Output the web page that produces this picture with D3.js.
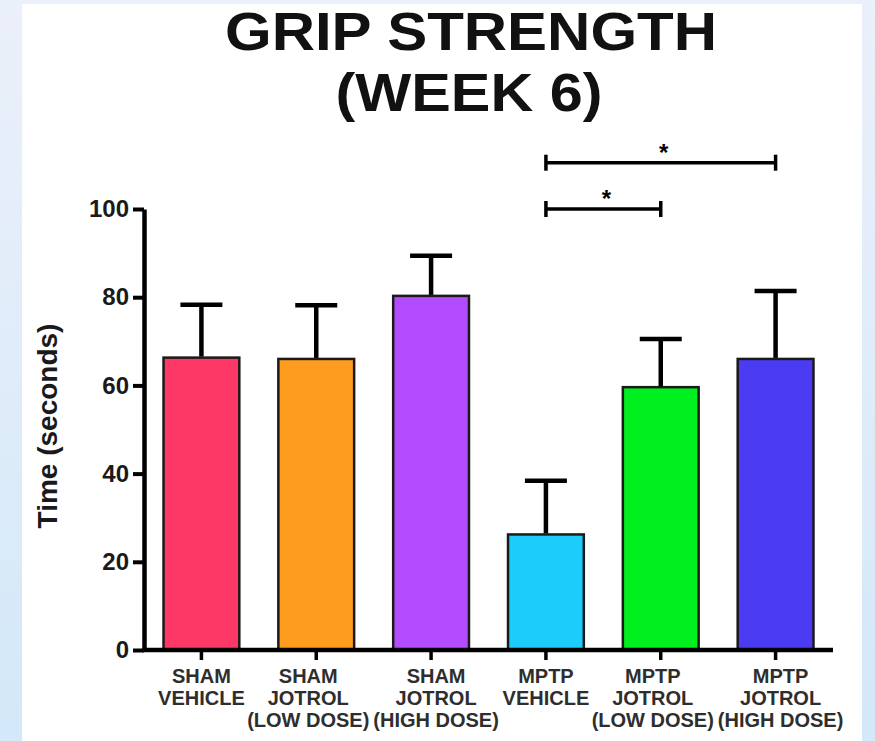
<!DOCTYPE html>
<html>
<head>
<meta charset="utf-8">
<script src="https://cdn.jsdelivr.net/npm/d3@7"></script>
<style>
  html, body { margin: 0; padding: 0; }
  body { width: 875px; height: 741px; overflow: hidden; }
  svg text { font-family: "Liberation Sans", Arial, Helvetica, sans-serif; font-weight: bold; }
</style>
</head>
<body>
<svg id="chart" width="875" height="741"></svg>
<script>
// data
const categories = ['SHAM VEHICLE', 'SHAM JOTROL LOW', 'SHAM JOTROL HIGH', 'MPTP VEHICLE', 'MPTP JOTROL LOW', 'MPTP JOTROL HIGH'];
const labelLines = [
  ['SHAM', 'VEHICLE'],
  ['SHAM', 'JOTROL', '(LOW DOSE)'],
  ['SHAM', 'JOTROL', '(HIGH DOSE)'],
  ['MPTP', 'VEHICLE'],
  ['MPTP', 'JOTROL', '(LOW DOSE)'],
  ['MPTP', 'JOTROL', '(HIGH DOSE)']
];
const means = [66.3, 66.0, 80.3, 26.2, 59.6, 66.0];
const errors = [12.0, 12.2, 9.1, 12.2, 10.9, 15.4];
const colors = ['#fe3866', '#fd9c1f', '#b34cfe', '#1ccdfc', '#00ef1e', '#4b3cf3'];
const yTicks = [0, 20, 40, 60, 80, 100];
// significance brackets: [from index, to index, height in seconds]
const brackets = [[3, 4, 100], [3, 5, 110.5]];
const bracketLabels = ['*', '*'];

const svg = d3.select('#chart');

// page background and white panel
const defs = svg.append('defs');
const grad = defs.append('linearGradient').attr('id', 'bg').attr('x1', 0).attr('y1', 0).attr('x2', 0).attr('y2', 1);
grad.append('stop').attr('offset', '0%').attr('stop-color', '#ebf0fa');
grad.append('stop').attr('offset', '100%').attr('stop-color', '#d3e8f8');
svg.append('rect').attr('width', 875).attr('height', 741).attr('fill', 'url(#bg)');
svg.append('rect').attr('x', 22).attr('y', 4).attr('width', 840).attr('height', 737).attr('fill', '#ffffff');

// scales
const x = d3.scaleBand()
    .domain(categories)
    .range([144, 833])
    .paddingInner(0.34)
    .paddingOuter(0.17);
const y = d3.scaleLinear()
    .domain([0, 100])
    .range([650, 209]);

// title (the original lettering is a bit wider than Arial)
const title = svg.append('text')
    .attr('text-anchor', 'middle')
    .attr('font-size', 53)
    .attr('fill', '#111');
title.append('tspan').attr('x', 471).attr('y', 50)
    .attr('textLength', 492).attr('lengthAdjust', 'spacingAndGlyphs')
    .text('GRIP STRENGTH');
title.append('tspan').attr('x', 469).attr('y', 111)
    .attr('textLength', 267).attr('lengthAdjust', 'spacingAndGlyphs')
    .text('(WEEK 6)');

// bars
svg.append('g').selectAll('rect')
    .data(categories)
    .join('rect')
    .attr('x', d => x(d))
    .attr('y', (d, i) => y(means[i]))
    .attr('width', x.bandwidth())
    .attr('height', (d, i) => y(0) - y(means[i]))
    .attr('fill', (d, i) => colors[i])
    .attr('stroke', '#1a1a1a')
    .attr('stroke-width', 2.5);

// error bars (upper only)
const err = svg.append('g').attr('stroke', '#000').attr('stroke-width', 4.5);
categories.forEach((c, i) => {
  const cx = x(c) + x.bandwidth() / 2;
  err.append('line')
      .attr('x1', cx).attr('x2', cx)
      .attr('y1', y(means[i]) - 1).attr('y2', y(means[i] + errors[i]));
  err.append('line')
      .attr('x1', cx - 21).attr('x2', cx + 21)
      .attr('y1', y(means[i] + errors[i])).attr('y2', y(means[i] + errors[i]));
});

// y axis
const yAxis = svg.append('g')
    .attr('transform', 'translate(144,0)')
    .call(d3.axisLeft(y).tickValues(yTicks).tickSize(11).tickSizeOuter(0).tickPadding(4));
yAxis.select('.domain').attr('stroke', '#000').attr('stroke-width', 4.5);
yAxis.selectAll('.tick line').attr('stroke', '#000').attr('stroke-width', 4);
yAxis.selectAll('.tick text')
    .attr('font-size', 24)
    .attr('font-family', null)
    .attr('fill', '#1a1a1a');

// x axis
const xAxis = svg.append('g')
    .attr('transform', 'translate(0,650)')
    .call(d3.axisBottom(x).tickSize(10).tickSizeOuter(0).tickFormat(''));
xAxis.select('.domain').attr('stroke', '#000').attr('stroke-width', 4.5)
    .attr('d', 'M142,0H833');
xAxis.selectAll('.tick line').attr('stroke', '#000').attr('stroke-width', 3.5);

// category labels, nudged like the original
const nudge = lines => {
  const last = lines[lines.length - 1];
  return last.includes('LOW') ? -8 : last.includes('HIGH') ? 5 : 0;
};
const lbl = svg.append('g')
    .attr('text-anchor', 'middle')
    .attr('font-size', 20)
    .attr('fill', '#2e2e2e');
categories.forEach((c, i) => {
  const cx = x(c) + x.bandwidth() / 2 + nudge(labelLines[i]);
  const t = lbl.append('text');
  labelLines[i].forEach((line, k) => {
    t.append('tspan').attr('x', cx).attr('y', 683 + k * 22).text(line);
  });
});

// y axis label
svg.append('text')
    .attr('transform', 'translate(57,426) rotate(-90)')
    .attr('text-anchor', 'middle')
    .attr('font-size', 28)
    .attr('fill', '#1a1a1a')
    .text('Time (seconds)');

// significance brackets
const br = svg.append('g');
brackets.forEach(([a, b, v], i) => {
  const x1 = x(categories[a]) + x.bandwidth() / 2;
  const x2 = x(categories[b]) + x.bandwidth() / 2;
  const yy = y(v);
  br.append('line').attr('x1', x1).attr('x2', x2).attr('y1', yy).attr('y2', yy)
      .attr('stroke', '#000').attr('stroke-width', 3.5);
  [x1, x2].forEach(xx => {
    br.append('line').attr('x1', xx).attr('x2', xx).attr('y1', yy - 8).attr('y2', yy + 8)
        .attr('stroke', '#000').attr('stroke-width', 3.5);
  });
  br.append('text')
      .attr('x', (x1 + x2) / 2 + 3)
      .attr('y', yy - 2)
      .attr('text-anchor', 'middle')
      .attr('font-size', 24)
      .attr('fill', '#000')
      .text(bracketLabels[i]);
});
</script>
</body>
</html>
